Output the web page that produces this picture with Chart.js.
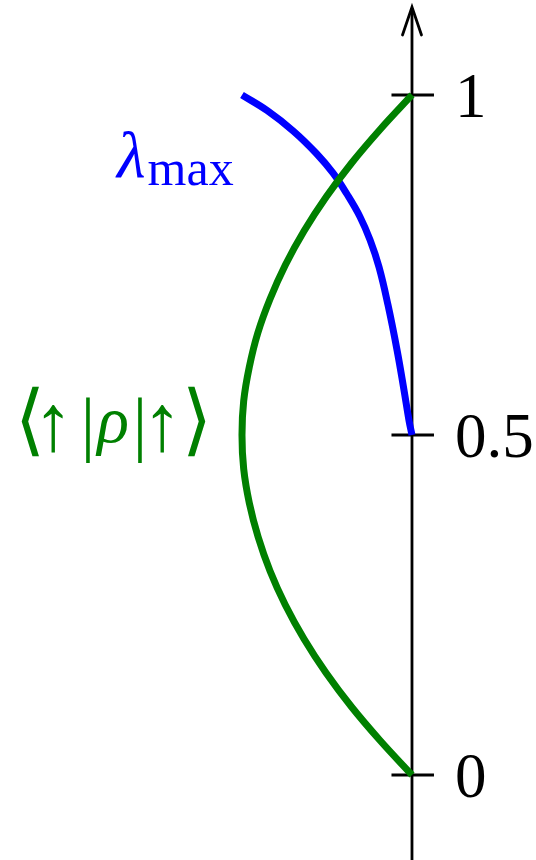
<!DOCTYPE html>
<html>
<head>
<meta charset="utf-8">
<script src="https://cdn.jsdelivr.net/npm/chart.js@4/dist/chart.umd.min.js"></script>
<style>
  html, body { margin: 0; padding: 0; background: #ffffff; }
  #wrap { width: 536px; height: 860px; }
</style>
</head>
<body>
<div id="wrap"><canvas id="c" width="536" height="860"></canvas></div>
<script>
// Probability of spin-up along the vertical axis, horizontal offset to the left of it.
const upProb   = [0, 0.05, 0.1, 0.15, 0.2, 0.25, 0.3, 0.35, 0.4, 0.45, 0.5,
                  0.55, 0.6, 0.65, 0.7, 0.75, 0.8, 0.85, 0.9, 0.95, 1.0];
const upOffset = [0, -0.185, -0.355, -0.505, -0.635, -0.745, -0.835, -0.905, -0.957, -0.99, -1.0,
                  -0.99, -0.957, -0.907, -0.835, -0.745, -0.635, -0.505, -0.355, -0.185, 0];

// Largest eigenvalue of the density matrix.
const lambdaMax    = [1.0, 0.977, 0.947, 0.914, 0.885, 0.854, 0.821, 0.787, 0.747, 0.691, 0.625, 0.566, 0.522, 0.5];
const lambdaOffset = [-1.0, -0.851, -0.698, -0.562, -0.464, -0.382, -0.306, -0.247, -0.194, -0.141, -0.088, -0.047, -0.018, 0];

// Vertical axis ticks.
const tickValues = [0, 0.5, 1];
const tickLabels = ['0', '0.5', '1'];

const GREEN = '#008000';
const BLUE = '#0000ff';
const SERIF = '"Liberation Serif", "DejaVu Serif", serif';
const SYMS = '"DejaVu Sans", "Liberation Serif", sans-serif';

function toPoints(xs, ys) {
  return xs.map((x, i) => ({ x: x, y: ys[i] }));
}

// Vertical axis with arrow head and tick marks, drawn beneath the curves.
const axisPlugin = {
  id: 'centerAxis',
  beforeDatasetsDraw(chart) {
    const ctx = chart.ctx;
    const xs = chart.scales.x, ys = chart.scales.y;
    const ax = xs.getPixelForValue(0);
    const top = chart.chartArea.top + 7;
    ctx.save();
    ctx.strokeStyle = '#000';
    ctx.lineWidth = 2.8;
    ctx.lineCap = 'butt';
    ctx.beginPath();
    ctx.moveTo(ax, top + 1);
    ctx.lineTo(ax, chart.chartArea.bottom);
    ctx.stroke();
    // open arrow head
    ctx.lineCap = 'round';
    ctx.lineJoin = 'miter';
    ctx.beginPath();
    ctx.moveTo(ax - 9.5, top + 28);
    ctx.lineTo(ax, top);
    ctx.lineTo(ax + 9.5, top + 28);
    ctx.stroke();
    // ticks
    ctx.lineCap = 'butt';
    tickValues.forEach(v => {
      const y = ys.getPixelForValue(v);
      ctx.beginPath();
      ctx.moveTo(ax - 20.5, y);
      ctx.lineTo(ax + 22, y);
      ctx.stroke();
    });
    ctx.restore();
  },
  afterDatasetsDraw(chart) {
    const ctx = chart.ctx;
    const xs = chart.scales.x, ys = chart.scales.y;
    const ax = xs.getPixelForValue(0);
    ctx.save();
    ctx.fillStyle = '#000';
    ctx.textAlign = 'left';
    ctx.textBaseline = 'alphabetic';
    ctx.font = '63px ' + SERIF;
    tickValues.forEach((v, i) => {
      ctx.fillText(tickLabels[i], ax + 43, ys.getPixelForValue(v) + 22);
    });

    // λ_max label
    ctx.fillStyle = BLUE;
    ctx.font = 'italic 66px ' + SERIF;
    ctx.fillText('λ', 117, 177);
    const lw = ctx.measureText('λ').width;
    ctx.font = '50px ' + SERIF;
    ctx.fillText('max', 119 + lw, 185);

    // ⟨↑|ρ|↑⟩ label
    ctx.fillStyle = GREEN;
    const base = 442;
    ctx.textAlign = 'center';
    ctx.font = '78px ' + SYMS;
    ctx.fillText('⟨', 30, base + 4);
    ctx.fillText('⟩', 197, base + 4);
    ctx.font = '80px ' + SERIF;
    ctx.fillText('↑', 53, base + 8);
    ctx.fillText('↑', 162, base + 8);
    ctx.font = '72px ' + SERIF;
    ctx.fillText('|', 88, base + 6);
    ctx.fillText('|', 140, base + 6);
    ctx.font = 'italic 66px ' + SERIF;
    ctx.fillText('ρ', 113, base);
    ctx.restore();
  }
};

new Chart(document.getElementById('c'), {
  type: 'scatter',
  data: {
    datasets: [
      {
        label: '⟨↑|ρ|↑⟩',
        data: toPoints(upOffset, upProb),
        showLine: true,
        borderColor: GREEN,
        backgroundColor: GREEN,
        borderWidth: 7,
        pointRadius: 0,
        tension: 0.4,
        fill: false
      },
      {
        label: 'λmax',
        data: toPoints(lambdaOffset, lambdaMax),
        showLine: true,
        borderColor: BLUE,
        backgroundColor: BLUE,
        borderWidth: 7,
        pointRadius: 0,
        tension: 0.4,
        fill: false
      }
    ]
  },
  options: {
    responsive: false,
    animation: false,
    devicePixelRatio: 1,
    layout: { padding: 0 },
    plugins: { legend: { display: false }, tooltip: { enabled: false } },
    scales: {
      x: { type: 'linear', min: -2.4235, max: 0.7295, display: false },
      y: { type: 'linear', min: -0.125, max: 1.1397, display: false }
    }
  },
  plugins: [axisPlugin]
});
</script>
</body>
</html>
